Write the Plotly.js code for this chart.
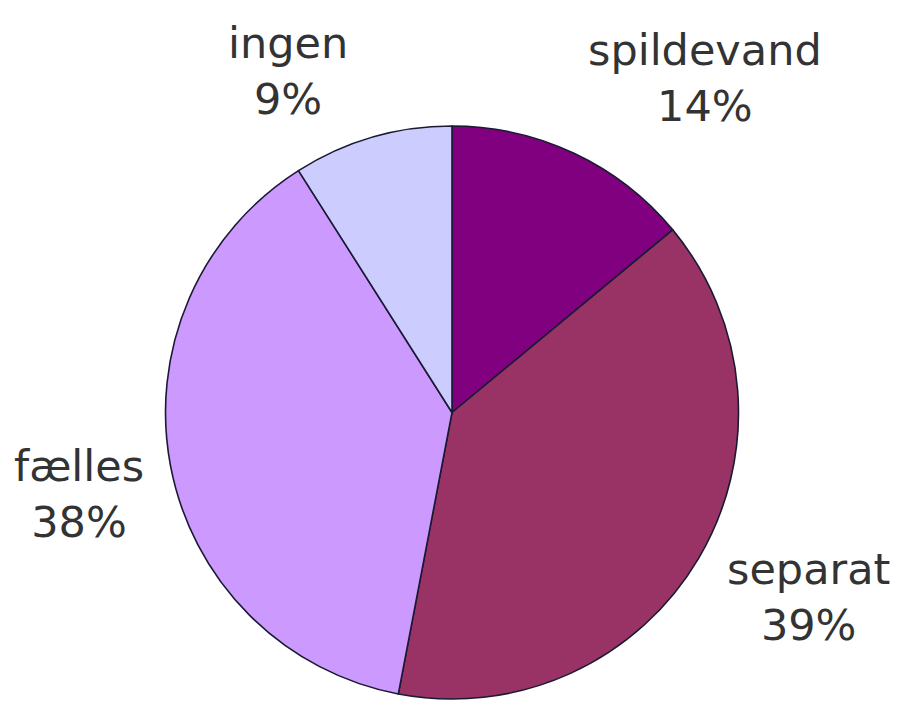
<!DOCTYPE html>
<html>
<head>
<meta charset="utf-8">
<script src="https://cdn.plot.ly/plotly-3.0.1.min.js"></script>
<style>html,body{margin:0;padding:0;background:#fff;}#chart{width:900px;height:701px;}</style>
</head>
<body>
<div id="chart"></div>
<script>
const labels = ["spildevand", "separat", "fælles", "ingen"];
const values = [14, 39, 38, 9];
const colors = ["#800080", "#993366", "#CC99FF", "#CCCCFF"];
// label anchor positions (paper coords) for each category
const labelX = [0.783, 0.898, 0.088, 0.320];
const labelY = [0.889, 0.148, 0.295, 0.899];

const total = values.reduce((a, b) => a + b, 0);
const annotations = labels.map((l, i) => ({
  x: labelX[i], y: labelY[i], xref: "paper", yref: "paper",
  text: l + "<br>" + Math.round(values[i] / total * 100) + "%",
  showarrow: false, xanchor: "center", yanchor: "middle",
  font: {family: "DejaVu Sans", size: 43, color: "#333333"}
}));

const trace = {
  type: "pie",
  labels: labels,
  values: values,
  sort: false,
  direction: "clockwise",
  rotation: 0,
  marker: {colors: colors, line: {color: "#1a1a33", width: 1.6}},
  textinfo: "none",
  hoverinfo: "none",
  domain: {x: [159/900, 745/900], y: [2/701, 575/701]}
};

const layout = {
  width: 900, height: 701,
  margin: {l: 0, r: 0, t: 0, b: 0},
  showlegend: false,
  paper_bgcolor: "#ffffff",
  annotations: annotations
};

Plotly.newPlot("chart", [trace], layout, {displayModeBar: false, staticPlot: true});
</script>
</body>
</html>
